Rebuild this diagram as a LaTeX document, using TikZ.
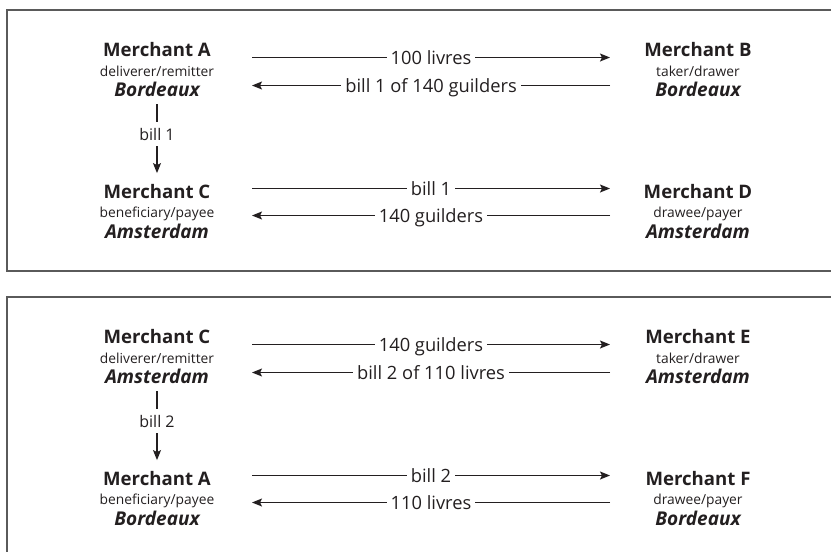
\documentclass[tikz,border=0pt]{standalone}
\usepackage{fontspec}
\setmainfont{Open Sans}
\usetikzlibrary{arrows.meta}
\definecolor{ink}{HTML}{231F20}
\definecolor{framegray}{HTML}{5A5A5A}
\tikzset{
  mtitle/.style={font=\fontsize{18.6}{22}\selectfont\bfseries, text=ink, inner sep=0pt, anchor=base, text height=13.3pt, text depth=0pt},
  mrole/.style={font=\fontsize{13.8}{16}\selectfont, text=ink, inner sep=0pt, anchor=base},
  mcity/.style={font=\fontsize{19}{22}\selectfont\bfseries\itshape, text=ink, inner sep=0pt, anchor=base, text height=13.5pt, text depth=0pt},
  flow/.style={draw=ink, line width=1.2pt, -{Stealth[length=10pt,width=8pt,inset=2pt]}},
  lab/.style={font=\fontsize{18.3}{22}\selectfont, text=ink, fill=white, inner xsep=4pt, inner ysep=2pt, text height=13pt, text depth=0pt},
  vlab/.style={font=\fontsize{16}{20}\selectfont, text=ink, fill=white, inner xsep=2pt, inner ysep=6pt, text height=12pt, text depth=0pt},
  panelline/.style={draw=framegray, line width=1.6pt}
}
\begin{document}
\begin{tikzpicture}[x=1pt,y=-1pt]
\useasboundingbox (0,0) rectangle (831,552);
\clip (0,0) rectangle (831,552);
\draw[panelline] (840,10) -- (7,10) -- (7,271) -- (840,271);
\draw[panelline] (840,297) -- (7,297) -- (7,580);

% ---------- panel 1 ----------
\node[mtitle] (A1t) at (157,56.7) {Merchant A};
\node[mrole]  (A1r) at (157,76) {deliverer/remitter};
\node[mcity]  (A1c) at (157,96.7) {Bordeaux};
\node[mtitle] (B1t) at (698,56.7) {Merchant B};
\node[mrole]  (B1r) at (698,76) {taker/drawer};
\node[mcity]  (B1c) at (698,96.7) {Bordeaux};
\node[mtitle] (C1t) at (157,198.2) {Merchant C};
\node[mrole]  (C1r) at (157,217.5) {beneficiary/payee};
\node[mcity]  (C1c) at (157,238) {Amsterdam};
\node[mtitle] (D1t) at (698,198.2) {Merchant D};
\node[mrole]  (D1r) at (698,217.5) {drawee/payer};
\node[mcity]  (D1c) at (698,238) {Amsterdam};

\coordinate (p1aL) at (252,57.5);  \coordinate (p1aR) at (610,57.5);
\coordinate (p1bL) at (252,85.5);  \coordinate (p1bR) at (610,85.5);
\coordinate (p1cL) at (252,188.5); \coordinate (p1cR) at (610,188.5);
\coordinate (p1dL) at (252,215.5); \coordinate (p1dR) at (610,215.5);

\draw[flow] (p1aL) -- node[lab] {100 livres} (p1aR);
\draw[flow] (p1bR) -- node[lab] {bill 1 of 140 guilders} (p1bL);
\draw[flow] (p1cL) -- node[lab] {bill 1} (p1cR);
\draw[flow] (p1dR) -- node[lab] {140 guilders} (p1dL);
\draw[flow, shorten <=7.3pt, shorten >=11.6pt] (A1c.south) -- node[vlab, pos=0.426] {bill 1} (C1t.north);

% ---------- panel 2 ----------
\node[mtitle] (C2t) at (157,343.7) {Merchant C};
\node[mrole]  (C2r) at (157,363) {deliverer/remitter};
\node[mcity]  (C2c) at (157,383.7) {Amsterdam};
\node[mtitle] (E2t) at (698,343.7) {Merchant E};
\node[mrole]  (E2r) at (698,363) {taker/drawer};
\node[mcity]  (E2c) at (698,383.7) {Amsterdam};
\node[mtitle] (A2t) at (157,485.2) {Merchant A};
\node[mrole]  (A2r) at (157,504.5) {beneficiary/payee};
\node[mcity]  (A2c) at (157,525) {Bordeaux};
\node[mtitle] (F2t) at (698,485.2) {Merchant F};
\node[mrole]  (F2r) at (698,504.5) {drawee/payer};
\node[mcity]  (F2c) at (698,525) {Bordeaux};

\coordinate (p2aL) at (252,344.5); \coordinate (p2aR) at (610,344.5);
\coordinate (p2bL) at (252,372.5); \coordinate (p2bR) at (610,372.5);
\coordinate (p2cL) at (252,475.5); \coordinate (p2cR) at (610,475.5);
\coordinate (p2dL) at (252,502.5); \coordinate (p2dR) at (610,502.5);

\draw[flow] (p2aL) -- node[lab] {140 guilders} (p2aR);
\draw[flow] (p2bR) -- node[lab] {bill 2 of 110 livres} (p2bL);
\draw[flow] (p2cL) -- node[lab] {bill 2} (p2cR);
\draw[flow] (p2dR) -- node[lab] {110 livres} (p2dL);
\draw[flow, shorten <=7.3pt, shorten >=11.6pt] (C2c.south) -- node[vlab, pos=0.426] {bill 2} (A2t.north);
\end{tikzpicture}
\end{document}
